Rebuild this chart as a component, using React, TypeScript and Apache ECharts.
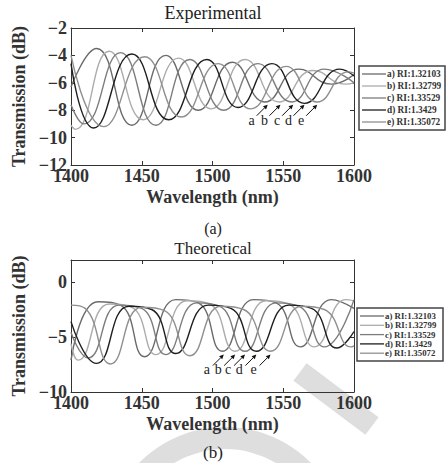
import React, { useEffect, useRef } from "react";
import * as echarts from "echarts";

const seriesNames = ["a) RI:1.32103", "b) RI:1.32799", "c) RI:1.33529", "d) RI:1.3429", "e) RI:1.35072"];
const lineColors = ["#6a6a6a", "#acacac", "#7c7c7c", "#1e1e1e", "#8f8f8f"];
const arrowLetters = ["a", "b", "c", "d", "e"];

// Experimental curves: [wavelength nm, transmission dB] at turning points
const expA = [[1400, -6.3], [1418, -3.5], [1443, -9.1], [1467, -4.0], [1490, -8.0], [1514, -4.5], [1537, -7.4], [1561, -5.0], [1584, -6.1], [1600, -5.4]];
const expB = [[1400, -9.1], [1403, -9.4], [1427, -3.7], [1451, -8.7], [1476, -4.2], [1499, -7.9], [1523, -4.3], [1547, -7.4], [1571, -5.1], [1594, -6.1], [1600, -6.0]];
const expC = [[1400, -7.6], [1409, -9.0], [1435, -3.8], [1460, -9.1], [1484, -4.3], [1508, -8.0], [1532, -4.6], [1556, -7.4], [1579, -5.0], [1600, -6.0]];
const expD = [[1400, -4.6], [1416, -9.3], [1443, -3.9], [1469, -8.7], [1496, -4.3], [1518, -7.8], [1542, -4.6], [1565, -7.5], [1590, -5.0], [1600, -5.5]];
const expE = [[1400, -4.0], [1423, -9.2], [1452, -4.1], [1478, -8.5], [1504, -4.6], [1527, -7.9], [1552, -4.8], [1574, -7.4], [1596, -5.2], [1600, -5.3]];

// Theoretical curves
const theoA = [[1400, -7.1], [1419, -1.8], [1435, -2.1], [1452, -6.8], [1474, -1.6], [1490, -1.9], [1507, -6.3], [1529, -1.6], [1545, -1.9], [1562, -5.9], [1584, -1.6], [1600, -2.4]];
const theoB = [[1400, -5.6], [1405, -7.1], [1427, -2.0], [1443, -2.3], [1460, -6.6], [1482, -1.7], [1498, -2.0], [1516, -6.3], [1538, -1.7], [1554, -2.0], [1572, -5.9], [1594, -1.6], [1600, -1.7]];
const theoC = [[1400, -4.6], [1412, -6.9], [1434, -2.1], [1450, -2.4], [1467, -6.6], [1489, -1.9], [1505, -2.2], [1523, -6.3], [1545, -1.9], [1561, -2.2], [1579, -5.9], [1600, -1.6]];
const theoD = [[1400, -3.6], [1418, -7.4], [1441, -2.2], [1457, -2.5], [1474, -6.5], [1497, -2.1], [1513, -2.4], [1531, -6.3], [1554, -2.1], [1570, -2.4], [1588, -6.0], [1600, -4.5]];
const theoE = [[1400, -2.1], [1410, -2.4], [1428, -7.45], [1450, -2.3], [1466, -2.6], [1484, -6.7], [1506, -2.2], [1522, -2.5], [1541, -6.3], [1563, -2.2], [1579, -2.5], [1598, -5.9], [1600, -5.8]];

const expSeries = [expA, expB, expC, expD, expE];
const theoSeries = [theoA, theoB, theoC, theoD, theoE];

// Arrow targets (wavelength, dB)
const expArrowWl = [1539, 1548, 1557, 1565, 1574];
const expArrowDb = -7.6;
const theoArrowWl = [1508, 1516, 1523, 1531, 1541];
const theoArrowDb = -6.6;

const xMin = 1400, xMax = 1600, xStep = 50;
const yExp = { min: -12, max: -2, step: 2 };
const yTheo = { min: -10, max: 2, step: 5 };

const FONT = "'Liberation Serif', 'Times New Roman', serif";
const AX = "#333";

export default function App() {
  const ref = useRef<HTMLDivElement>(null);
  useEffect(() => {
    const chart = echarts.init(ref.current!, null, { renderer: "svg" });
    const minus = (v: number) => String(v).replace("-", "\u2212");
    const grids = [
      { left: 71, top: 28, width: 283, height: 137 },
      { left: 71, top: 260, width: 283, height: 132 },
    ];
    const yr = [yExp, yTheo];
    const xAxes: any[] = [];
    const yAxes: any[] = [];
    grids.forEach((_, i) => {
      const base = {
        gridIndex: i, type: "value", min: xMin, max: xMax, interval: xStep,
        axisLine: { show: true, onZero: false, lineStyle: { color: AX, width: 1 } },
        axisTick: { show: true, inside: true, length: 4, lineStyle: { color: AX } },
        splitLine: { show: false },
      };
      xAxes.push({
        ...base, position: "bottom", name: "Wavelength (nm)", nameLocation: "middle", nameGap: 23,
        nameTextStyle: { fontFamily: FONT, fontWeight: "bold", fontSize: 18, color: AX },
        axisLabel: { fontFamily: FONT, fontWeight: "bold", fontSize: 18, lineHeight: 12, color: AX, margin: 5, formatter: (v: number) => String(v) },
      });
      xAxes.push({ ...base, position: "top", axisLabel: { show: false } });
      const ybase = {
        gridIndex: i, type: "value", min: yr[i].min, max: yr[i].max, interval: yr[i].step,
        axisLine: { show: true, onZero: false, lineStyle: { color: AX, width: 1 } },
        axisTick: { show: true, inside: true, length: 4, lineStyle: { color: AX } },
        splitLine: { show: false },
      };
      yAxes.push({
        ...ybase, position: "left", name: "Transmission (dB)", nameLocation: "middle", nameGap: 30,
        nameTextStyle: { fontFamily: FONT, fontWeight: "bold", fontSize: 18, color: AX },
        axisLabel: { fontFamily: FONT, fontWeight: "bold", fontSize: 18, lineHeight: 10, color: AX, margin: 4, formatter: minus, showMaxLabel: i === 0 },
      });
      yAxes.push({ ...ybase, position: "right", axisLabel: { show: false } });
    });

    const series: any[] = [];
    [expSeries, theoSeries].forEach((set, g) => {
      set.forEach((data, k) => {
        series.push({
          type: "line", name: seriesNames[k], xAxisIndex: g * 2, yAxisIndex: g * 2,
          data, smooth: 0.5, showSymbol: false, symbol: "none",
          lineStyle: { color: lineColors[k], width: 1.4 }, itemStyle: { color: lineColors[k] },
          z: 3,
        });
      });
    });

    const txt = (s: string, y: number, fs: number) => ({
      type: "text", x: 213, y,
      style: { text: s, fontFamily: FONT, fontSize: fs, lineHeight: fs - 2, fill: "#222", textAlign: "center", textVerticalAlign: "middle" },
    });
    const texts: any[] = [txt("Experimental", 13, 18), txt("(a)", 228, 16), txt("Theoretical", 248, 17), txt("(b)", 452, 17)];

    const watermark: any[] = [
      { type: "ring", z: -10, shape: { cx: 225, cy: 548, r: 121, r0: 99 }, style: { fill: "#dedede" } },
      { type: "polygon", z: -10, shape: { points: [[306.6, 363.2], [378.6, 417.2], [365.4, 434.8], [293.4, 380.8]] }, style: { fill: "#dedede" } },
    ];

    const legendBox = (x: number, y: number, w: number, h: number, gap: number, fs: number) => {
      const els: any[] = [
        { type: "rect", shape: { x, y, width: w, height: h }, style: { fill: "#fff", stroke: "#444", lineWidth: 1.5 } },
      ];
      seriesNames.forEach((n, k) => {
        const yy = y + 8 + k * gap;
        els.push({ type: "line", shape: { x1: x + 3, y1: yy, x2: x + 27, y2: yy }, style: { stroke: lineColors[k], lineWidth: 1.3 } });
        els.push({ type: "text", x: x + 28, y: yy, style: { text: n, fontFamily: FONT, fontWeight: "bold", fontSize: fs, fill: "#333", textVerticalAlign: "middle" } });
      });
      return els;
    };

    const baseOption: any = {
      animation: false,
      backgroundColor: "#fff",
      grid: grids.map((g) => ({ ...g, containLabel: false })),
      xAxis: xAxes,
      yAxis: yAxes,
      series,
      graphic: [
        ...watermark,
        ...texts,
        ...legendBox(359, 66, 86, 64, 12, 9.3),
        ...legendBox(357, 308, 86, 53, 9.3, 8.8),
      ],
    };
    chart.setOption(baseOption);

    const arrows: any[] = [];
    const addArrows = (wls: number[], db: number, seriesIndex: number, tail: number[], lab: number[]) => {
      wls.forEach((wl, k) => {
        const p = chart.convertToPixel({ seriesIndex }, [wl, db]) as number[];
        const hx = p[0], hy = p[1];
        const tx = hx + tail[0], ty = hy + tail[1];
        const dx = hx - tx, dy = hy - ty;
        const L = Math.hypot(dx, dy);
        const ux = dx / L, uy = dy / L;
        const hl = 4.5, hw = 2.2;
        const bx = hx - ux * hl, by = hy - uy * hl;
        arrows.push({ type: "line", shape: { x1: tx, y1: ty, x2: bx, y2: by }, style: { stroke: "#111", lineWidth: 1 } });
        arrows.push({ type: "polygon", shape: { points: [[hx, hy], [bx - uy * hw, by + ux * hw], [bx + uy * hw, by - ux * hw]] }, style: { fill: "#111" } });
        arrows.push({ type: "text", x: hx + lab[0], y: hy + lab[1], style: { text: arrowLetters[k], fontFamily: FONT, fontSize: 14, fill: "#222", textAlign: "center", textVerticalAlign: "middle" } });
      });
    };
    addArrows(expArrowWl, expArrowDb, 0, [-11, 11], [-16, 16]);
    addArrows(theoArrowWl, theoArrowDb, 5, [-11, 11], [-17, 15]);
    chart.setOption({ graphic: [...baseOption.graphic, ...arrows] });

    return () => chart.dispose();
  }, []);
  return <div ref={ref} style={{ position: "fixed", left: 0, top: 0, width: 446, height: 463 }} />;
}
